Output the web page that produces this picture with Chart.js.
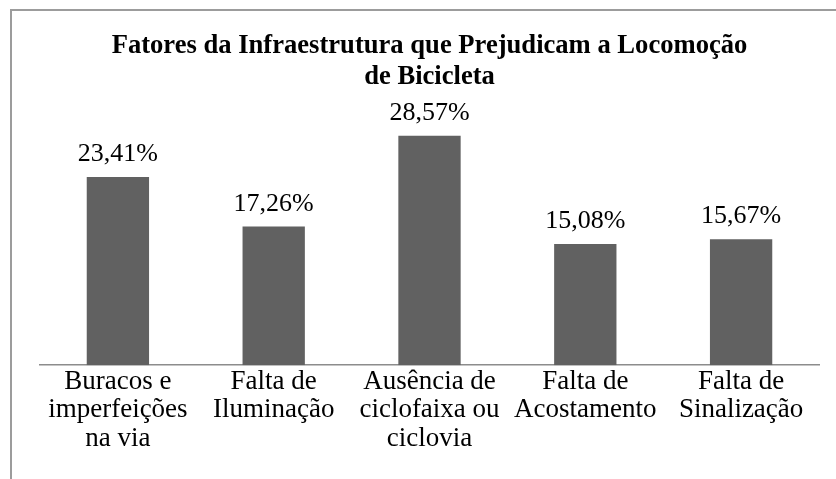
<!DOCTYPE html>
<html lang="pt">
<head>
    <meta charset="UTF-8">
    <title>Fatores da Infraestrutura que Prejudicam a Locomoção de Bicicleta</title>
    <script src="https://cdn.jsdelivr.net/npm/chart.js"></script>
    <style>
        html, body { margin: 0; padding: 0; background: #fff; overflow: hidden; }
        #frame {
            position: absolute; left: 10px; top: 9px; width: 900px; height: 600px;
            border-left: 2px solid #9c9c9c; border-top: 2px solid #9c9c9c;
            pointer-events: none;
        }
        #wrap { position: absolute; left: 0; top: 0; width: 836px; height: 479px; }
    </style>
</head>
<body>
<div id="wrap"><canvas id="barChart"></canvas></div>
<div id="frame"></div>

<script>
    // categories (one array per label, split in lines like the original)
    const categories = [
        ['Buracos e', 'imperfeições', 'na via'],
        ['Falta de', 'Iluminação'],
        ['Ausência de', 'ciclofaixa ou', 'ciclovia'],
        ['Falta de', 'Acostamento'],
        ['Falta de', 'Sinalização']
    ];
    const percentages = [23.41, 17.26, 28.57, 15.08, 15.67];
    const titleLines = ['Fatores da Infraestrutura que Prejudicam a Locomoção', 'de Bicicleta'];

    const serif = '"Liberation Serif", "Times New Roman", serif';

    // writes the value over each bar, e.g. 23,41%
    const valueLabels = {
        id: 'valueLabels',
        afterDatasetsDraw(chart) {
            const ctx = chart.ctx;
            const meta = chart.getDatasetMeta(0);
            ctx.save();
            ctx.font = '26px ' + serif;
            ctx.fillStyle = '#000';
            ctx.textAlign = 'center';
            ctx.textBaseline = 'alphabetic';
            meta.data.forEach((bar, i) => {
                const txt = percentages[i].toFixed(2).replace('.', ',') + '%';
                ctx.fillText(txt, bar.x, bar.y - 16);
            });
            ctx.restore();
        }
    };

    const ctx = document.getElementById('barChart').getContext('2d');
    const chart = new Chart(ctx, {
        type: 'bar',
        data: {
            labels: categories,
            datasets: [{
                data: percentages,
                backgroundColor: '#616161',
                borderWidth: 0,
                categoryPercentage: 1.0,
                barPercentage: 0.4
            }]
        },
        options: {
            responsive: true,
            maintainAspectRatio: false,
            animation: false,
            events: [],
            layout: {
                padding: { left: 40, right: 17, top: 0, bottom: 24 }
            },
            plugins: {
                legend: { display: false },
                tooltip: { enabled: false },
                title: {
                    display: true,
                    text: titleLines,
                    fullSize: false,
                    color: '#000',
                    font: { family: serif, size: 26.6, weight: 'bold', lineHeight: 1.15 },
                    padding: { top: 31, bottom: 32 }
                }
            },
            scales: {
                x: {
                    grid: { display: false, drawTicks: false },
                    border: { display: true, color: '#8c8c8c', width: 1.5 },
                    ticks: {
                        color: '#000',
                        padding: 2,
                        maxRotation: 0,
                        autoSkip: false,
                        font: { family: serif, size: 27, lineHeight: 1.06 }
                    }
                },
                y: {
                    display: false,
                    min: 0,
                    max: 30
                }
            }
        },
        plugins: [valueLabels]
    });
</script>
</body>
</html>
